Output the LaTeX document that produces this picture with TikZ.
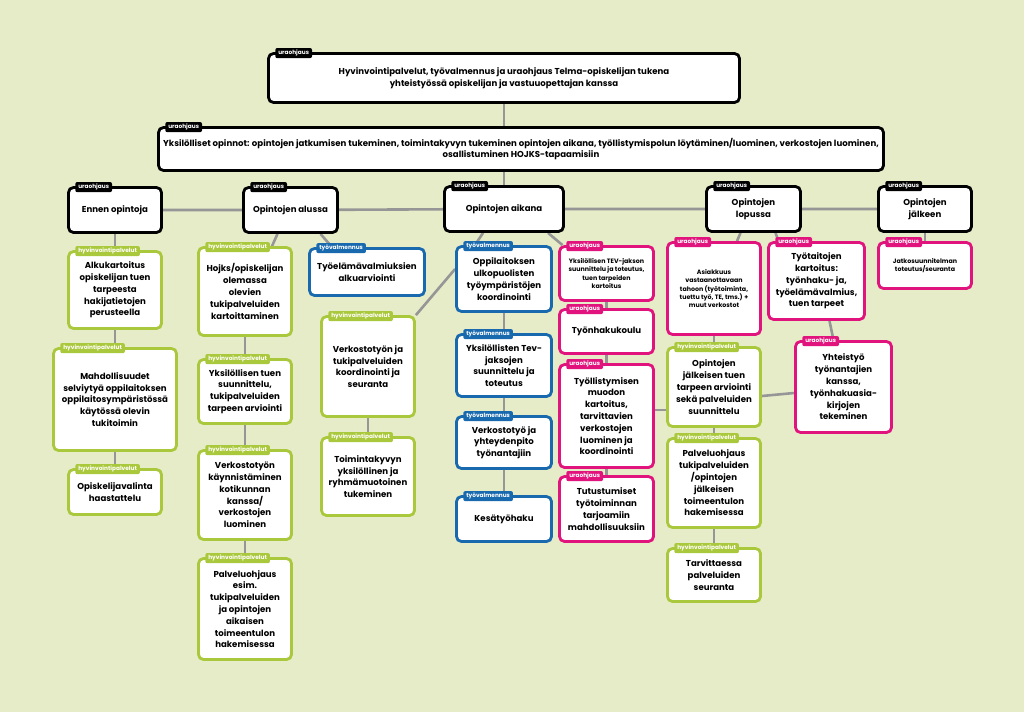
\documentclass[tikz,border=0pt]{standalone}
\usepackage{fontspec}
\setmainfont{Poppins}
\usetikzlibrary{backgrounds}
\definecolor{bgcol}{RGB}{231,236,200}
\definecolor{limecol}{RGB}{170,200,60}
\definecolor{bluecol}{RGB}{25,105,175}
\definecolor{magcol}{RGB}{225,20,125}
\definecolor{linecol}{RGB}{150,150,150}
\tikzset{
  box/.style={draw, line width=2.8pt, rounded corners=5pt, fill=white, align=center, inner sep=2pt,
    font=\fontsize{8.6}{11.8}\selectfont\bfseries},
  wh/.style 2 args={minimum width=#1pt, minimum height=#2pt},
  blackbox/.style={box, draw=black},
  limebox/.style={box, draw=limecol},
  bluebox/.style={box, draw=bluecol},
  magbox/.style={box, draw=magcol},
  smalltext/.style={font=\fontsize{6.3}{8.4}\selectfont\bfseries},
  tagbox/.style={anchor=west, text=white, inner xsep=3pt, inner ysep=2pt, rounded corners=2pt,
    font=\fontsize{5.8}{6.5}\selectfont\bfseries},
  link/.style={draw=linecol, line width=2.6pt},
}
\begin{document}
\begin{tikzpicture}[x=1pt,y=-1pt]
% top levels
\node[blackbox, wh={471}{49}] (top) at (504,78) {Hyvinvointipalvelut, työvalmennus ja uraohjaus Telma-opiskelijan tukena\\yhteistyössä opiskelijan ja vastuuopettajan kanssa};
\node[blackbox, wh={725}{43}] (yks) at (521,149) {Yksilölliset opinnot: opintojen jatkumisen tukeminen, toimintakyvyn tukeminen opintojen aikana, työllistymispolun löytäminen/luominen, verkostojen luominen,\\osallistuminen HOJKS-tapaamisiin};
% phases
\node[blackbox, wh={93}{45}] (ennen) at (115,210) {Ennen opintoja};
\node[blackbox, wh={94}{45}] (alussa) at (290.5,210) {Opintojen alussa};
\node[blackbox, wh={119}{45}] (aikana) at (504,209) {Opintojen aikana};
\node[blackbox, wh={94}{45}] (lopussa) at (753.5,209) {Opintojen\\lopussa};
\node[blackbox, wh={93}{45}] (jalkeen) at (925,209) {Opintojen\\jälkeen};
% ennen opintoja
\node[limebox, wh={93}{77}] (alku) at (115,290) {Alkukartoitus\\opiskelijan tuen\\tarpeesta\\hakijatietojen\\perusteella};
\node[limebox, wh={123}{102}] (mahd) at (115,399.5) {Mahdollisuudet\\selviytyä oppilaitoksen\\oppilaitosympäristössä\\käytössä olevin\\tukitoimin};
\node[limebox, wh={93}{45}] (opval) at (115,492) {Opiskelijavalinta\\haastattelu};
% opintojen alussa
\node[limebox, wh={93}{88}] (hojks) at (245,291.5) {Hojks/opiskelijan\\olemassa\\olevien\\tukipalveluiden\\kartoittaminen};
\node[limebox, wh={93}{64}] (tuen) at (245,391.5) {Yksilöllisen tuen\\suunnittelu,\\tukipalveluiden\\tarpeen arviointi};
\node[limebox, wh={93}{89}] (verkk) at (245,495) {Verkostotyön\\käynnistäminen\\kotikunnan\\kanssa/\\verkostojen\\luominen};
\node[limebox, wh={93}{101}] (palv) at (245,609) {Palveluohjaus\\esim.\\tukipalveluiden\\ja opintojen\\aikaisen\\toimeentulon\\hakemisessa};
\node[bluebox, wh={115}{47}] (tyoel) at (367,272) {Työelämävalmiuksien\\alkuarviointi};
\node[limebox, wh={93}{100}] (koord) at (368,366.5) {Verkostotyön ja\\tukipalveluiden\\koordinointi ja\\seuranta};
\node[limebox, wh={93}{78}] (toim) at (368,476.5) {Toimintakyvyn\\yksilöllinen ja\\ryhmämuotoinen\\tukeminen};
% opintojen aikana
\node[bluebox, wh={95}{65}] (oppi) at (504,279) {Oppilaitoksen\\ulkopuolisten\\työympäristöjen\\koordinointi};
\node[bluebox, wh={95}{62}] (tevj) at (504,365.5) {Yksilöllisten Tev-\\jaksojen\\suunnittelu ja\\toteutus};
\node[bluebox, wh={95}{52}] (yhtey) at (504,442.5) {Verkostotyö ja\\yhteydenpito\\työnantajiin};
\node[bluebox, wh={95}{45}] (kesa) at (504,519) {Kesätyöhaku};
\node[magbox, smalltext, wh={94}{54}] (tevs) at (606.5,273.5) {Yksilöllisen TEV-jakson\\suunnittelu ja toteutus,\\tuen tarpeiden\\kartoitus};
\node[magbox, wh={94}{44}] (hakuk) at (606.5,331.5) {Työnhakukoulu};
\node[magbox, wh={94}{103}] (tyoll) at (606.5,416) {Työllistymisen\\muodon\\kartoitus,\\tarvittavien\\verkostojen\\luominen ja\\koordinointi};
\node[magbox, wh={94}{65}] (tutu) at (606.5,509) {Tutustumiset\\työtoiminnan\\tarjoamiin\\mahdollisuuksiin};
% opintojen lopussa
\node[magbox, smalltext, wh={93}{92}] (asiak) at (714,288.5) {Asiakkuus\\vastaanottavaan\\tahoon (työtoiminta,\\tuettu työ, TE, tms.) +\\muut verkostot};
\node[limebox, wh={93}{79}] (opjalk) at (714,387) {Opintojen\\jälkeisen tuen\\tarpeen arviointi\\sekä palveluiden\\suunnittelu};
\node[limebox, wh={93}{89}] (palv2) at (714,483) {Palveluohjaus\\tukipalveluiden\\/opintojen\\jälkeisen\\toimeentulon\\hakemisessa};
\node[limebox, wh={93}{53}] (tarv) at (714,575) {Tarvittaessa\\palveluiden\\seuranta};
\node[magbox, wh={96}{77}] (tyotaito) at (816.5,281) {Työtaitojen\\kartoitus:\\työnhaku- ja,\\työelämävalmius,\\tuen tarpeet};
\node[magbox, wh={96}{91}] (yhteis) at (843.5,387) {Yhteistyö\\työnantajien\\kanssa,\\työnhakuasia-\\kirjojen\\tekeminen};
% opintojen jalkeen
\node[magbox, smalltext, wh={93}{46}] (jatko) at (925,265.5) {Jatkosuunnitelman\\toteutus/seuranta};
% tags
\foreach \n in {top,yks,ennen,alussa,aikana,lopussa,jalkeen}
  \node[tagbox, fill=black] (\n-tag) at ([xshift=8pt,yshift=-1pt]\n.north west) {uraohjaus};
\foreach \n in {alku,mahd,opval,hojks,tuen,verkk,palv,koord,toim,opjalk,palv2,tarv}
  \node[tagbox, fill=limecol] (\n-tag) at ([xshift=8pt,yshift=-1pt]\n.north west) {hyvinvointipalvelut};
\foreach \n in {tyoel,oppi,tevj,yhtey,kesa}
  \node[tagbox, fill=bluecol] (\n-tag) at ([xshift=8pt,yshift=-1pt]\n.north west) {työvalmennus};
\foreach \n in {tevs,hakuk,tyoll,tutu,asiak,tyotaito,yhteis,jatko}
  \node[tagbox, fill=magcol] (\n-tag) at ([xshift=8pt,yshift=-1pt]\n.north west) {uraohjaus};
% background and connectors
\begin{scope}[on background layer]
\fill[bgcol] (0,0) rectangle (1024,712);
\draw[link] (top.south) -- (top.south |- yks.north);
\draw[link] (aikana.north |- yks.south) -- (aikana.north);
\draw[link] (ennen) -- (alussa) -- (aikana) -- (lopussa) -- (jalkeen);
\draw[link] (ennen) -- (alku) -- (mahd) -- (opval);
\draw[link] (hojks) -- (tuen) -- (verkk) -- (palv);
\draw[link] (koord) -- (toim);
\draw[link] (oppi) -- (tevj) -- (yhtey) -- (kesa);
\draw[link] (tevs) -- (hakuk) -- (tyoll) -- (tutu);
\draw[link] (asiak) -- (opjalk) -- (palv2) -- (tarv);
\draw[link] (jalkeen) -- (jatko);
\draw[link] ([xshift=-13pt]alussa.south) -- ([xshift=27pt]hojks.north);
\draw[link] ([xshift=30pt]alussa.south) -- ([xshift=-35pt]tyoel.north);
\draw[link] (koord.north east) -- ([yshift=10pt]oppi.west);
\draw[link] ([xshift=-21pt]aikana.south) -- ([xshift=-29pt]oppi.north);
\draw[link] ([xshift=44pt]aikana.south) -- ([xshift=-44pt]tevs.north);
\draw[link] ([xshift=-13pt]lopussa.south) -- ([xshift=23pt]asiak.north);
\draw[link] ([xshift=22pt]lopussa.south) -- ([xshift=-38pt]tyotaito.north);
\draw[link] ([xshift=13pt]tyotaito.south) -- ([xshift=-10pt]yhteis.north);
\draw[link] ([yshift=6pt]tyoll.east) -- ([yshift=6pt]tyoll.east -| opjalk.west);
\draw[link] ([yshift=-9pt]opjalk.east) -- ([yshift=-6pt]yhteis.west);
\end{scope}
\end{tikzpicture}
\end{document}
